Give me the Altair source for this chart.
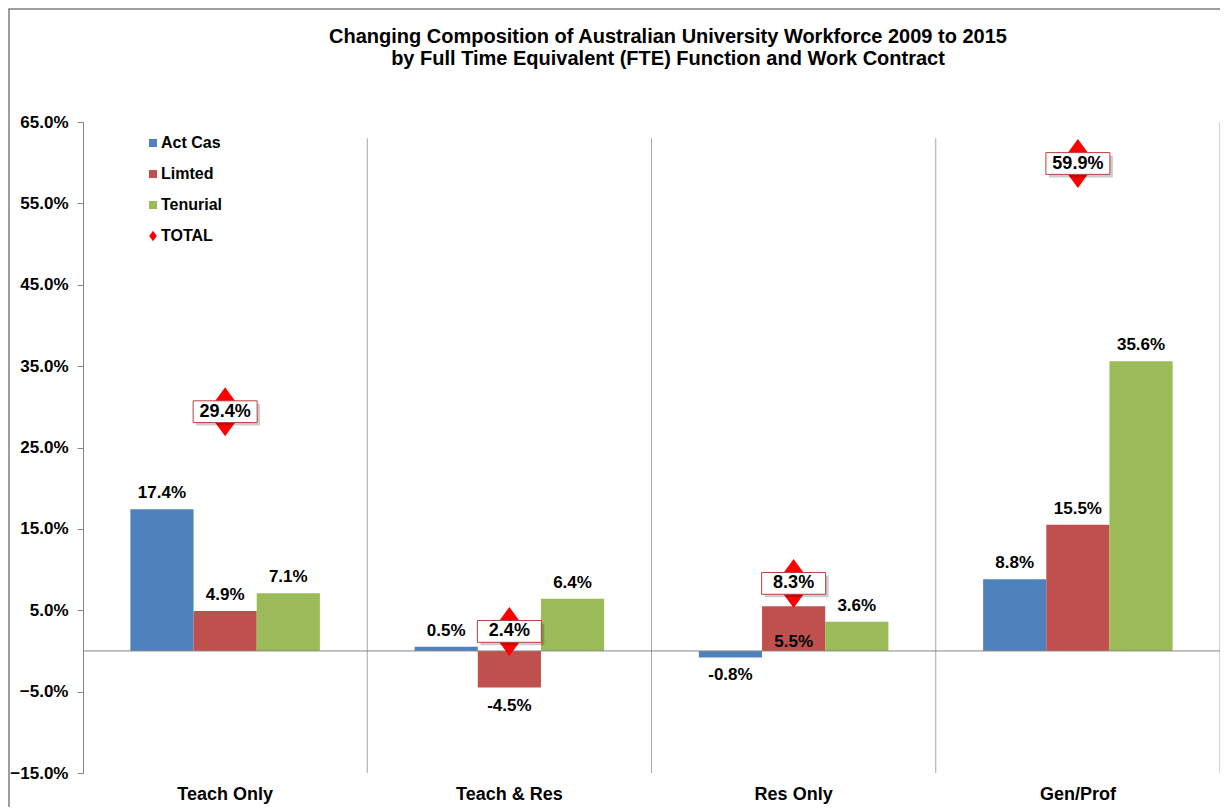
import altair as alt
import pandas as pd

categories = ["Teach Only", "Teach & Res", "Res Only", "Gen/Prof"]
series = ["Act Cas", "Limted", "Tenurial"]
act_cas = [17.4, 0.5, -0.8, 8.8]
limted = [4.9, -4.5, 5.5, 15.5]
tenurial = [7.1, 6.4, 3.6, 35.6]
total = [29.4, 2.4, 8.3, 59.9]
total_name = "TOTAL"
y_ticks = [-15, -5, 5, 15, 25, 35, 45, 55, 65]
label_inside = [("Res Only", "Limted")]
colors = ["#4F81BD", "#C0504D", "#9BBB59"]
title_lines = [
    "Changing Composition of Australian University Workforce 2009 to 2015",
    "by Full Time Equivalent (FTE) Function and Work Contract",
]

rows = []
for s, vals in zip(series, [act_cas, limted, tenurial]):
    for c, v in zip(categories, vals):
        rows.append({
            "category": c, "series": s, "value": v,
            "label": f"{v:.1f}%",
            "pos": "inside" if (c, s) in label_inside else ("above" if v >= 0 else "below"),
        })
bars_df = pd.DataFrame(rows)
total_df = pd.DataFrame({
    "category": categories, "value": total,
    "label": [f"{v:.1f}%" for v in total], "series": [total_name] * len(total),
})
inner_df = pd.DataFrame({"category": categories[:-1]})
last_df = pd.DataFrame({"category": categories[-1:]})
one_df = pd.DataFrame({"a": [0]})

FONT = "Liberation Sans"
DIAMOND = "M0,-1 L0.73,0 L0,1 L-0.73,0 Z"
BOX = "M-1,-0.34 L1,-0.34 L1,0.34 L-1,0.34 Z"

x_scale = alt.Scale(domain=categories, paddingInner=0, paddingOuter=0)
y_scale = alt.Scale(domain=[-15, 65], nice=False, zero=False)
x_axis = alt.Axis(title=None, domain=False, ticks=False, grid=False, labelFont=FONT,
                  labelFontSize=18, labelFontWeight="bold", labelColor="black",
                  labelPadding=12, labelAngle=0)
y_axis = alt.Axis(title=None, values=y_ticks, labelExpr="format(datum.value, '.1f') + '%'",
                  domainColor="#868686", tickColor="#868686", tickSize=6, grid=False,
                  labelFont=FONT, labelFontSize=17, labelFontWeight="bold",
                  labelColor="black", labelPadding=9)

x_enc = alt.X("category:N", scale=x_scale, sort=categories, axis=x_axis)
y_enc = alt.Y("value:Q", scale=y_scale, axis=y_axis)
xo_enc = alt.XOffset("series:N", sort=series,
                     scale=alt.Scale(domain=series, paddingInner=0, paddingOuter=0.75))
x_edge = alt.X("category:N", scale=x_scale, sort=categories, axis=x_axis, bandPosition=1)

frame = alt.Chart(one_df).mark_rect(fillOpacity=0, stroke="#7F7F7F", strokeWidth=1.5).encode(
    x=alt.value(-74), x2=alt.value(1600), y=alt.value(-113), y2=alt.value(1200))

title = alt.Chart(one_df).mark_text(
    font=FONT, fontSize=20, fontWeight="bold", color="black", align="center",
    baseline="middle", lineBreak="\n", lineHeight=22).encode(
    x=alt.value(585), y=alt.value(-85), text=alt.value("\n".join(title_lines)))

seps_inner = alt.Chart(inner_df).mark_rule(color="#A6A6A6", strokeWidth=1).encode(
    x=x_edge, y=alt.datum(63), y2=alt.datum(-15))
seps_last = alt.Chart(last_df).mark_rule(color="#A6A6A6", strokeWidth=1).encode(x=x_edge)

bars = alt.Chart(bars_df).mark_bar().encode(
    x=x_enc, xOffset=xo_enc, y=y_enc, y2=alt.datum(0),
    color=alt.Color("series:N", sort=series,
                    scale=alt.Scale(domain=series, range=colors),
                    legend=alt.Legend(title=None, orient="none", legendX=62, legendY=13,
                                      symbolType="square", symbolSize=64,
                                      symbolStrokeWidth=0, labelFont=FONT,
                                      labelFontSize=16, labelFontWeight="bold",
                                      labelColor="black", rowPadding=15, labelOffset=0)))

zero = alt.Chart(one_df).mark_rule(color="#868686", strokeWidth=1).encode(y=alt.datum(0))

text_common = dict(font=FONT, fontSize=17, fontWeight="bold", color="black", baseline="middle")
lab_above = alt.Chart(bars_df).transform_filter("datum.pos == 'above'").mark_text(
    dy=-16, **text_common).encode(x=x_enc, xOffset=xo_enc, y=y_enc, text="label:N")
lab_below = alt.Chart(bars_df).transform_filter("datum.pos == 'below'").mark_text(
    dy=18, **text_common).encode(x=x_enc, xOffset=xo_enc, y=y_enc, text="label:N")
lab_inside = alt.Chart(bars_df).transform_filter("datum.pos == 'inside'").mark_text(
    dy=-9, **text_common).encode(x=x_enc, xOffset=xo_enc, y=alt.datum(0), text="label:N")

diamond = alt.Chart(total_df).mark_point(filled=True, fill="#FF0000", opacity=1,
                                         size=2401, strokeWidth=0).encode(
    x=x_enc, y=y_enc,
    shape=alt.Shape("series:N", scale=alt.Scale(domain=[total_name], range=[DIAMOND]),
                    legend=alt.Legend(title=None, orient="none", legendX=62, legendY=106,
                                      symbolSize=110, symbolFillColor="#FF0000",
                                      symbolStrokeWidth=0, labelFont=FONT,
                                      labelFontSize=16, labelFontWeight="bold",
                                      labelColor="black", labelOffset=0)))
shadow = alt.Chart(total_df).mark_point(shape=BOX, filled=True, fill="#000000", opacity=0.2,
                                        size=4096, strokeWidth=0, xOffset=3, yOffset=3).encode(
    x=x_enc, y=y_enc)
box = alt.Chart(total_df).mark_point(shape=BOX, filled=True, fill="white", stroke="#B7413E",
                                     strokeWidth=1, opacity=1, size=4096).encode(
    x=x_enc, y=y_enc)
total_text = alt.Chart(total_df).mark_text(font=FONT, fontSize=18, fontWeight="bold",
                                           color="black", baseline="middle").encode(
    x=x_enc, y=y_enc, text="label:N")

chart = alt.layer(
    frame, title, seps_inner, seps_last, bars, zero, lab_above, lab_below, lab_inside,
    diamond, shadow, box, total_text
).properties(
    width=1137, height=651,
    padding={"left": 75, "top": 114, "right": 0, "bottom": 34},
    autosize=alt.AutoSizeParams(type="none"),
).configure_view(stroke=None).configure_axis(grid=False)

chart.save("out.html", embed_options={"renderer": "svg", "actions": False})
